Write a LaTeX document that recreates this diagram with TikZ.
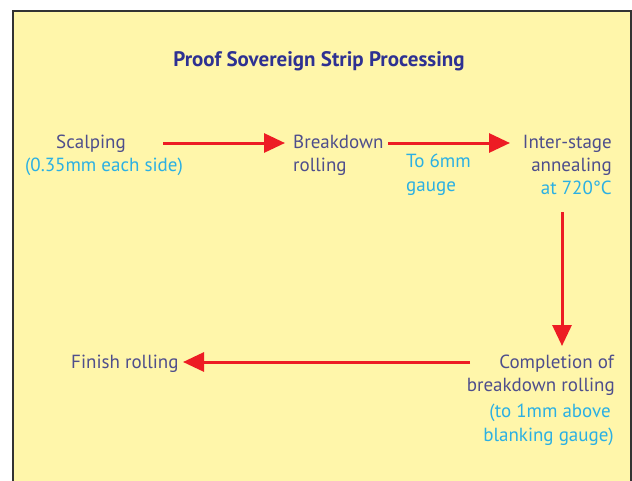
\documentclass[tikz,border=0pt]{standalone}
\usepackage{fontspec}
\setmainfont{PT Sans}
\usetikzlibrary{arrows.meta}
\definecolor{bgyellow}{HTML}{FFF6AA}
\definecolor{framegray}{HTML}{333333}
\definecolor{txtblue}{HTML}{4E4E8C}
\definecolor{titleblue}{HTML}{2E3192}
\definecolor{cyantxt}{HTML}{2BB0E3}
\definecolor{arrred}{HTML}{ED1C24}
\tikzset{
  lbl/.style={inner sep=0pt, text=txtblue, font=\fontsize{19}{23}\selectfont, align=left},
  note/.style={inner sep=0pt, text=cyantxt, font=\fontsize{19}{23}\selectfont, align=left},
  flow/.style={draw=arrred, line width=3pt, -{Triangle[length=21pt,width=19pt]}}
}
\begin{document}
\begin{tikzpicture}[x=1pt,y=-1pt]
\useasboundingbox (0,0) rectangle (632,480);
\fill[white] (0,0) rectangle (632,480);
\draw[framegray, line width=1.5pt, fill=bgyellow] (13,11) rectangle (631,495);
\node[inner sep=0pt, text=titleblue, font=\fontsize{21}{24}\selectfont\bfseries, anchor=base] (title) at (319,66) {Proof Sovereign Strip Processing};
% Scalping
\node[lbl, anchor=base] (scalp) at (91,148) {Scalping};
\node[note, anchor=base] (scalpn) at (104,171) {(0.35mm each side)};
% Breakdown
\node[lbl, anchor=base west] (brk1) at (293,148) {Breakdown};
\node[lbl, anchor=base west] (brk2) at (293,171) {rolling};
\node[note, anchor=base west] (six1) at (406,167) {To 6mm};
\node[note, anchor=base west] (six2) at (406,191) {gauge};
% Inter-stage
\node[lbl, anchor=base east] (int1) at (612,148) {Inter-stage};
\node[lbl, anchor=base east] (int2) at (612,171) {annealing};
\node[note, anchor=base east] (int3) at (612,194) {at 720°C};
% Completion
\node[lbl, anchor=base east] (c1) at (614,368) {Completion of};
\node[lbl, anchor=base east] (c2) at (615,391) {breakdown rolling};
\node[note, anchor=base east] (c3) at (611,417) {(to 1mm above};
\node[note, anchor=base east] (c4) at (614,441) {blanking gauge)};
% Finish
\node[lbl, anchor=base west] (fin) at (71,368) {Finish rolling};
% connector end points
\coordinate (a1s) at (163,143);
\coordinate (a1e) at (285,143);
\coordinate (a2s) at (388,143);
\coordinate (a2e) at (510,143);
\coordinate (dtop) at (562,212);
\coordinate (dbot) at (562,346);
\coordinate (lstart) at (470,362);
\coordinate (lend) at (183,362);
% arrows
\draw[flow] (a1s) -- (a1e);
\draw[flow] (a2s) -- (a2e);
\draw[flow] (dtop) -- (dbot);
\draw[flow] (lstart) -- (lend);
\end{tikzpicture}
\end{document}
